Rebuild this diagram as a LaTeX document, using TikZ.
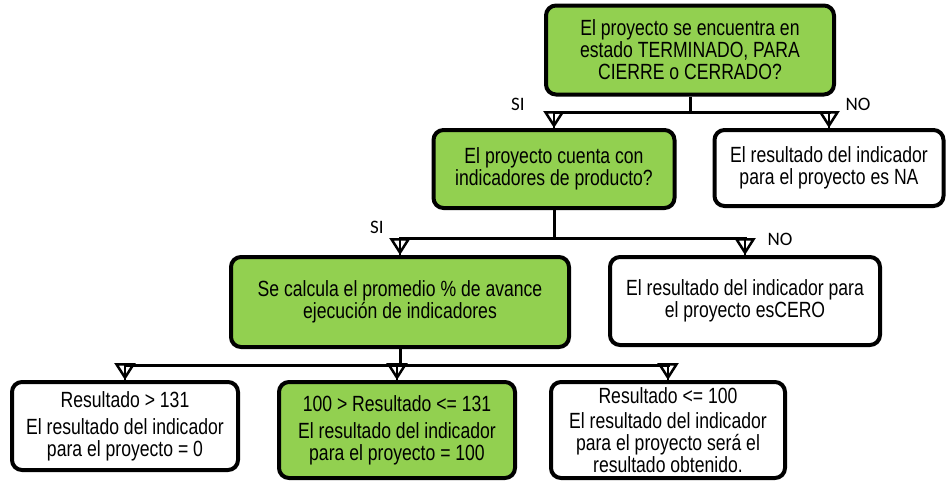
\documentclass[tikz,border=0pt]{standalone}
\usepackage{fontspec}
\setmainfont{Liberation Sans}[FakeStretch=0.8]
\newfontfamily\lblfont{Carlito}
\usetikzlibrary{arrows.meta}

\definecolor{verde}{HTML}{92D050}

\begin{document}
\begin{tikzpicture}[x=1pt,y=-1pt,
  caja/.style={draw, line width=4pt, rounded corners=10pt, align=center, inner sep=0pt, font=\fontsize{22}{22}\selectfont},
  cajav/.style={caja, fill=verde},
  linea/.style={line width=3pt},
  flecha/.style={line width=3pt, -{Triangle[open, width=21pt, length=17pt, line width=2.5pt]}, postaction={draw, line width=2pt, arrows=-}},
  etiq/.style={font=\lblfont\fontsize{19}{21}\selectfont}]
\useasboundingbox (0,0) rectangle (946,485);

% primer nivel
\node[cajav, minimum width=288pt, minimum height=89pt] (estado) at (690,50) {El proyecto se encuentra en\\estado TERMINADO, PARA\\CIERRE o CERRADO?};
\node[cajav, minimum width=241pt, minimum height=78pt] (indic) at (554,169) {El proyecto cuenta con\\indicadores de producto?};
\node[caja, minimum width=229pt, minimum height=76pt] (na) at (829,168) {El resultado del indicador\\para el proyecto es NA};

% segundo nivel
\node[cajav, minimum width=338pt, minimum height=90pt] (prom) at (400,302) {Se calcula el promedio \% de avance\\ejecuci\'on de indicadores};
\node[caja, minimum width=270pt, minimum height=88pt] (cero) at (745,301) {El resultado del indicador para\\el proyecto esCERO};

% resultados
\node[caja, minimum width=226pt, minimum height=88pt] (mayor) at (125,426) {Resultado > 131\\[5pt]El resultado del indicador\\para el proyecto = 0};
\node[cajav, minimum width=236pt, minimum height=96pt] (medio) at (397,430) {100 > Resultado <= 131\\[5pt]El resultado del indicador\\para el proyecto = 100};
\node[caja, minimum width=234pt, minimum height=96pt] (menor) at (668,430) {Resultado <= 100\\[3pt]El resultado del indicador\\para el proyecto ser\'a el\\resultado obtenido.};

\coordinate (j1) at (690,112);
\coordinate (j2) at (554,238);
\coordinate (j3) at (400,365);

\draw[linea] (estado) -- (j1);
\draw[flecha] (j1) -| (indic);
\draw[flecha] (j1) -| (na);
\draw[linea] (indic) -- (j2);
\draw[flecha] (j2) -| (prom);
\draw[flecha] (j2) -| (cero);
\draw[linea] (prom) -- (j3);
\draw[flecha] (j3) -| (mayor);
\draw[flecha] (j3) -| (medio);
\draw[flecha] (j3) -| (menor);

\node[etiq] (si1) at (518,104) {SI};
\node[etiq] (no1) at (858,104) {NO};
\node[etiq] (si2) at (377,227) {SI};
\node[etiq] (no2) at (780,239) {NO};
\end{tikzpicture}
\end{document}
